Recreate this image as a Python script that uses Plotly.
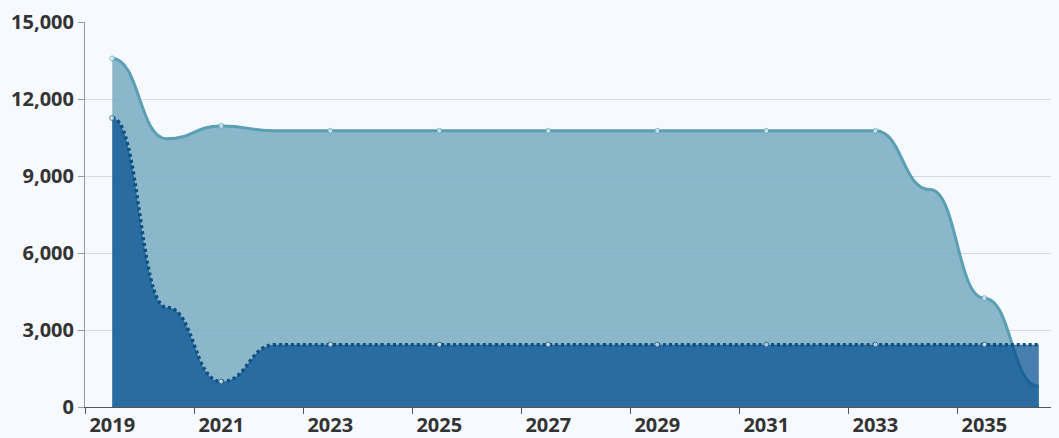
import plotly.graph_objects as go

years = list(range(2019, 2037))
series_top = [13580, 10450, 10950, 10760, 10760, 10760, 10760, 10760, 10760,
              10760, 10760, 10760, 10760, 10760, 10760, 8470, 4240, 800]
series_bottom = [11260, 3880, 990, 2430, 2430, 2430, 2430, 2430, 2430,
                 2430, 2430, 2430, 2430, 2430, 2430, 2430, 2430, 2430]
label_years = list(range(2019, 2037, 2))
tick_labels = [str(y) for y in label_years]
y_ticks = [0, 3000, 6000, 9000, 12000, 15000]

BG = "#f6f9fd"
TOP_LINE = "#5a9fb2"
TOP_FILL = "rgba(120,172,194,0.85)"
BOT_LINE = "#0f4f7f"
BOT_FILL = "rgba(0,76,143,0.7)"
SMOOTH = 0.5  # smooth curve with horizontal tangents at each data point


def curve_path(xs, ys, closed):
    """SVG path (data coordinates) of a smooth curve through the data points."""
    if closed:
        parts = [f"M {xs[0]},0 L {xs[0]},{ys[0]}"]
    else:
        parts = [f"M {xs[0]},{ys[0]}"]
    for i in range(1, len(xs)):
        dx = xs[i] - xs[i - 1]
        parts.append(
            f"C {xs[i-1] + SMOOTH * dx},{ys[i-1]} {xs[i] - SMOOTH * dx},{ys[i]} {xs[i]},{ys[i]}"
        )
    if closed:
        parts.append(f"L {xs[-1]},0 Z")
    return " ".join(parts)


shapes = [
    dict(type="path", xref="x", yref="y", layer="between",
         path=curve_path(years, series_top, True),
         fillcolor=TOP_FILL, line=dict(width=0)),
    dict(type="path", xref="x", yref="y", layer="between",
         path=curve_path(years, series_top, False),
         fillcolor="rgba(0,0,0,0)", line=dict(color=TOP_LINE, width=3)),
    dict(type="path", xref="x", yref="y", layer="between",
         path=curve_path(years, series_bottom, True),
         fillcolor=BOT_FILL, line=dict(width=0)),
    dict(type="path", xref="x", yref="y", layer="between",
         path=curve_path(years, series_bottom, False),
         fillcolor="rgba(0,0,0,0)", line=dict(color=BOT_LINE, width=3.5, dash="3px,3px")),
]

marker_sizes = [5 if y in label_years else 0 for y in years]

fig = go.Figure()
fig.add_trace(go.Scatter(
    x=years, y=series_top, mode="markers",
    marker=dict(size=marker_sizes, color="#eefaff", line=dict(color=TOP_LINE, width=1)),
    showlegend=False, hoverinfo="x+y",
))
fig.add_trace(go.Scatter(
    x=years, y=series_bottom, mode="markers",
    marker=dict(size=marker_sizes, color="#eefaff", line=dict(color=BOT_LINE, width=1)),
    showlegend=False, hoverinfo="x+y",
))

font = dict(family="Open Sans", size=20, color="#333333", weight="bold")
fig.update_layout(
    width=1051, height=430,
    margin=dict(l=77, r=0, t=11, b=30),
    paper_bgcolor=BG, plot_bgcolor=BG,
    shapes=shapes,
    xaxis=dict(
        range=[2018.5, 2036.37], tickvals=label_years, ticktext=tick_labels,
        ticks="", showgrid=False, zeroline=False,
        showline=True, linecolor="#555555", linewidth=1,
        tickfont=font,
        minor=dict(tickvals=[y - 0.5 for y in label_years], ticks="outside",
                   ticklen=6, tickcolor="#555555", showgrid=False),
    ),
    yaxis=dict(
        range=[0, 15000], tickvals=y_ticks, tickformat=",",
        ticks="outside", ticklen=6, tickcolor="#999999",
        showgrid=True, gridcolor="#d5dae0", gridwidth=1, zeroline=False,
        showline=True, linecolor="#999999", linewidth=1,
        tickfont=font, ticklabeloverflow="allow",
    ),
)
fig.write_html("out.html", post_script=f"document.body.style.background='{BG}';")
